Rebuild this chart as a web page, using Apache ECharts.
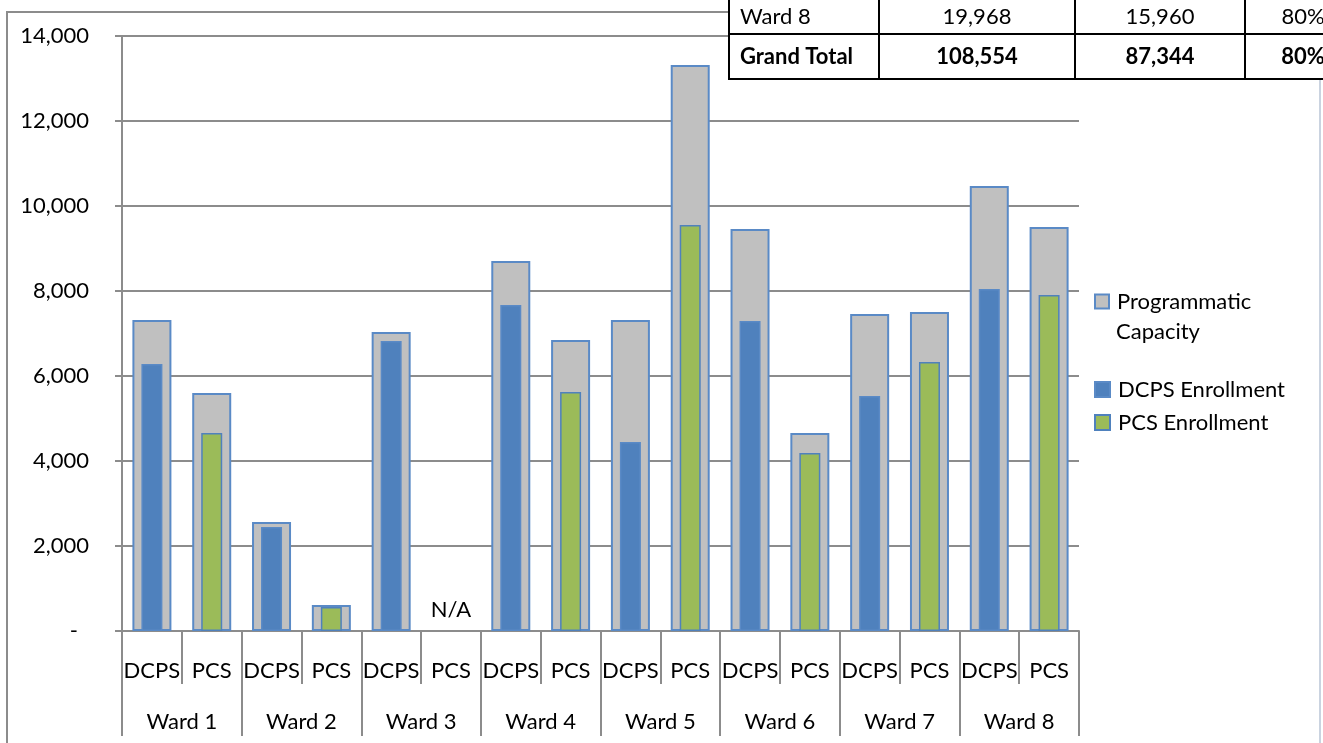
<!DOCTYPE html>
<html><head><meta charset="utf-8">
<script src="https://cdn.jsdelivr.net/npm/echarts@6/dist/echarts.min.js"></script>
<style>html,body{margin:0;padding:0;background:#fff;overflow:hidden}#c{width:1323px;height:743px}</style>
</head><body><div id="c"></div>
<script>
// ---- data ----
const schoolTypes = ['DCPS','PCS','DCPS','PCS','DCPS','PCS','DCPS','PCS','DCPS','PCS','DCPS','PCS','DCPS','PCS','DCPS','PCS'];
const wards = ['Ward 1','Ward 2','Ward 3','Ward 4','Ward 5','Ward 6','Ward 7','Ward 8'];
const capacity = [7318,5600,2565,612,7035,null,8706,6847,7318,13318,9459,4659,7459,7506,10471,9506];
const dcpsEnrollment = [6282,null,2447,null,6824,null,7671,null,4447,null,7294,null,5529,null,8047,null];
const pcsEnrollment = [null,4659,null,565,null,null,null,5624,null,9553,null,4188,null,6329,null,7906];
const naIndex = 5;
const naLabel = 'N/A';
const yMin = 0, yMax = 14000, yStep = 2000;
const tableHeader = ['Ward 8','19,968','15,960','80%'];
const tableTotal = ['Grand Total','108,554','87,344','80%'];

// ---- style/layout ----
const FONT = 'Lato, Carlito, "Liberation Sans", sans-serif';
const GRAY = '#8c8c8c';
const colX = [729, 879, 1075, 1245, 1361];
const rowY = [-12, 34, 79];

const graphics = [];
graphics.push({type:'polyline', shape:{points:[[7,743],[7,12],[1320,12]]}, style:{stroke:GRAY, lineWidth:2, fill:null}, z:1});
graphics.push({type:'line', shape:{x1:1320,y1:12,x2:1320,y2:743}, style:{stroke:'#b8c4d6', lineWidth:1.5}, z:1});
graphics.push({type:'text', left:1116, top:321, style:{text:'Capacity', font:'22px ' + FONT, fill:'#000'}, z:10});
graphics.push({type:'rect', shape:{x:colX[0], y:rowY[0], width:colX[4]-colX[0], height:rowY[2]-rowY[0]}, style:{fill:'#fff', stroke:'#000', lineWidth:2}, z:50});
graphics.push({type:'line', shape:{x1:colX[0], y1:rowY[1], x2:colX[4], y2:rowY[1]}, style:{stroke:'#000', lineWidth:2}, z:51});
for (let i = 1; i < colX.length - 1; i++) {
  graphics.push({type:'line', shape:{x1:colX[i], y1:rowY[0], x2:colX[i], y2:rowY[2]}, style:{stroke:'#000', lineWidth:2}, z:51});
}
[tableHeader, tableTotal].forEach((row, r) => {
  const cy = (rowY[r] + rowY[r+1]) / 2 + (r === 0 ? 6 : 0);
  row.forEach((txt, c) => {
    const left = c === 0;
    graphics.push({type:'text', z:52, style:{
      text: txt, x: left ? colX[c] + 11 : (colX[c] + colX[c+1]) / 2, y: cy,
      textAlign: left ? 'left' : 'center', textVerticalAlign:'middle',
      font: (r === 1 ? 'bold ' : '') + '22px ' + FONT, fill:'#000'}});
  });
});

const chart = echarts.init(document.getElementById('c'), null, {renderer:'canvas'});
chart.setOption({
  animation:false,
  backgroundColor:'#fff',
  textStyle:{fontFamily:FONT},
  grid:{left:122, right:244, top:36, bottom:112, containLabel:false},
  legend:[
    {data:['Programmatic Capacity'], orient:'vertical', left:1089, top:280, icon:'rect', itemWidth:14, itemHeight:14,
     formatter:()=> 'Programmatic', textStyle:{fontSize:22, color:'#000', lineHeight:33, padding:[0,0,0,3], fontFamily:FONT}, selectedMode:false},
    {data:['DCPS Enrollment','PCS Enrollment'], orient:'vertical', left:1089, top:368, itemGap:0, icon:'rect', itemWidth:15, itemHeight:15,
     textStyle:{fontSize:22, color:'#000', lineHeight:33, padding:[0,0,0,3], fontFamily:FONT}, selectedMode:false}
  ],
  xAxis:[
    {type:'category', data:schoolTypes, position:'bottom',
     axisLine:{show:true, lineStyle:{color:GRAY, width:2}},
     axisTick:{show:true, interval:0, length:53, lineStyle:{color:GRAY, width:2}},
     axisLabel:{interval:0, margin:29, fontSize:22, color:'#000', fontFamily:FONT}},
    {type:'category', data:schoolTypes, position:'top', show:false},
    {type:'category', data:wards, position:'bottom',
     axisLine:{show:false},
     axisTick:{show:true, interval:0, length:105, lineStyle:{color:GRAY, width:2}},
     axisLabel:{interval:0, margin:80, fontSize:22, color:'#000', fontFamily:FONT}}
  ],
  yAxis:{type:'value', min:yMin, max:yMax, interval:yStep,
    axisLine:{show:true, lineStyle:{color:GRAY, width:2}},
    axisTick:{show:true, length:7, lineStyle:{color:GRAY, width:2}},
    splitLine:{show:true, lineStyle:{color:GRAY, width:2}},
    axisLabel:{margin:33, fontSize:22, color:'#000', fontFamily:FONT,
      formatter:(v)=> v === 0 ? '{d|-}' : v.toLocaleString('en-US'),
      rich:{d:{fontSize:22, padding:[0,11,0,0], fontFamily:FONT}}}},
  series:[
    {name:'Programmatic Capacity', type:'bar', xAxisIndex:0, data:capacity, barWidth:39,
     itemStyle:{color:'#c0c0c0', borderColor:'#5a8ac6', borderWidth:2},
     markPoint:{symbol:'circle', symbolSize:1, itemStyle:{color:'rgba(0,0,0,0)'},
       label:{show:true, formatter:naLabel, position:'inside', offset:[0,-21], fontSize:22, color:'#000', fontFamily:FONT},
       data:[{coord:[naIndex, 0]}]}},
    {name:'DCPS Enrollment', type:'bar', xAxisIndex:1, stack:'enr', data:dcpsEnrollment, barWidth:21,
     itemStyle:{color:'#4f81bd', borderColor:'#5a8ac6', borderWidth:1.5}},
    {name:'PCS Enrollment', type:'bar', xAxisIndex:1, stack:'enr', data:pcsEnrollment, barWidth:21,
     itemStyle:{color:'#9bbb59', borderColor:'#4f81bd', borderWidth:1.5}}
  ],
  graphic:graphics
});
</script></body></html>
